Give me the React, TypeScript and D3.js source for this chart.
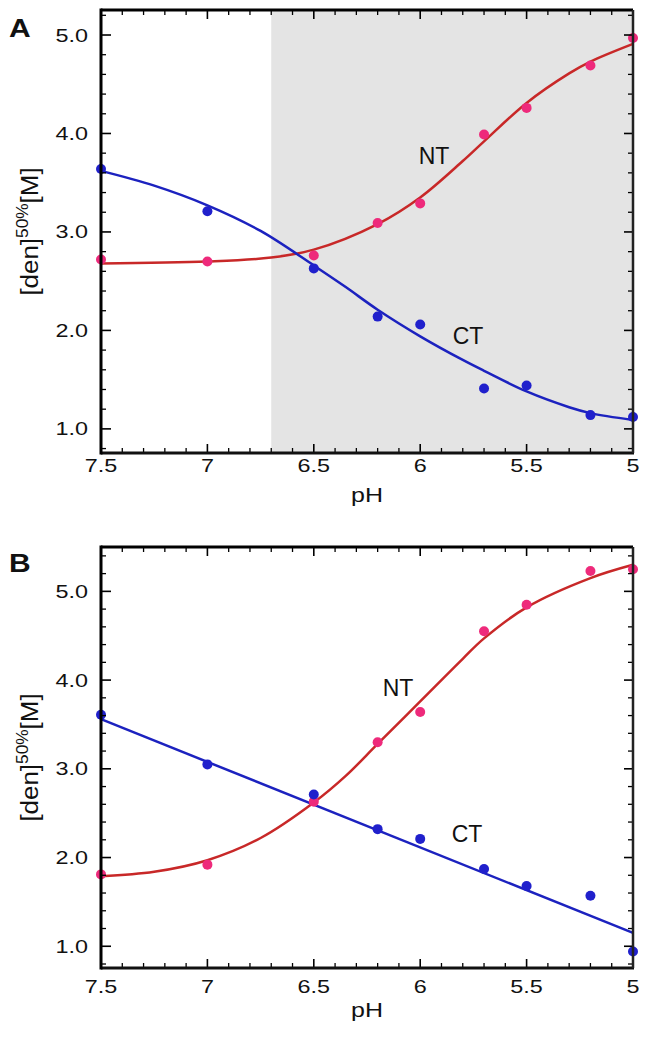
import React from 'react';
import * as d3 from 'd3';

// pH values where the points were measured
const phPoints = [7.5, 7.0, 6.5, 6.2, 6.0, 5.7, 5.5, 5.2, 5.0];

// panel A measurements
const ntA = [2.72, 2.7, 2.76, 3.09, 3.29, 3.99, 4.26, 4.69, 4.97];
const ctA = [3.64, 3.21, 2.63, 2.14, 2.06, 1.41, 1.44, 1.14, 1.12];

// panel B measurements
const ntB = [1.81, 1.92, 2.63, 3.3, 3.64, 4.55, 4.85, 5.23, 5.25];
const ctB = [3.61, 3.05, 2.71, 2.32, 2.21, 1.87, 1.68, 1.57, 0.94];

// fitted curves
const ntFitPhA = [7.5, 7.0, 6.7, 6.5, 6.2, 6.0, 5.8, 5.7, 5.5, 5.3, 5.2, 5.0];
const ntFitA = [2.68, 2.7, 2.74, 2.82, 3.08, 3.35, 3.72, 3.92, 4.31, 4.61, 4.73, 4.91];
const ctFitPhA = [7.5, 7.25, 7.0, 6.75, 6.5, 6.35, 6.2, 6.0, 5.8, 5.7, 5.5, 5.3, 5.2, 5.0];
const ctFitA = [3.62, 3.47, 3.27, 3.01, 2.66, 2.44, 2.21, 1.94, 1.7, 1.59, 1.38, 1.22, 1.16, 1.09];

const ntFitPhB = [7.5, 7.25, 7.0, 6.75, 6.5, 6.35, 6.2, 6.0, 5.8, 5.7, 5.5, 5.2, 5.0];
const ntFitB = [1.79, 1.84, 1.97, 2.22, 2.62, 2.92, 3.28, 3.76, 4.24, 4.47, 4.82, 5.15, 5.3];
const ctFitPhB = [7.5, 5.0];
const ctFitB = [3.56, 1.15];

const xMajor = [7.5, 7, 6.5, 6, 5.5, 5];
const yMajor = [1.0, 2.0, 3.0, 4.0, 5.0];

const pink = '#ee2a7b';
const red = '#c82828';
const blue = '#2020cc';
const blueLine = '#1c22bf';
const font = 'Liberation Sans, Arial, Helvetica, sans-serif';

const left = 101;
const right = 633;

// text that is a bit wider than the font, like in the original figure
function Wide(props: { x: number; y: number; sx: number; size: number; anchor?: string; bold?: boolean; children: React.ReactNode }) {
  return (
    <text
      transform={`translate(${props.x},${props.y}) scale(${props.sx},1)`}
      textAnchor={props.anchor || 'start'}
      fontSize={props.size}
      fontWeight={props.bold ? 'bold' : 'normal'}
      fontFamily={font}
      fill="#111"
    >
      {props.children}
    </text>
  );
}

type PanelProps = {
  letter: string;
  top: number;
  bottom: number;
  yDomain: [number, number];
  nt: number[];
  ct: number[];
  ntFitX: number[];
  ntFit: number[];
  ctFitX: number[];
  ctFit: number[];
  shadeFrom?: number;
  ntLabel: [number, number];
  ctLabel: [number, number];
  tickLabelGap: number;
  letterGap: number;
};

function Panel(p: PanelProps) {
  const x = d3.scaleLinear().domain([7.5, 5]).range([left, right]);
  const y = d3.scaleLinear().domain(p.yDomain).range([p.bottom, p.top]);

  const line = d3
    .line<[number, number]>()
    .x(d => x(d[0]))
    .y(d => y(d[1]))
    .curve(d3.curveCatmullRom.alpha(0.5));

  const xMinor = d3.range(50, 76).map(v => v / 10).filter(v => !xMajor.some(m => Math.abs(m - v) < 1e-6));
  const yMinor = d3
    .range(Math.ceil(p.yDomain[0] * 5), Math.floor(p.yDomain[1] * 5) + 1)
    .map(v => v / 5)
    .filter(v => Math.abs(v - Math.round(v)) > 1e-6);

  const midY = (p.top + p.bottom) / 2;

  return (
    <g>
      {p.shadeFrom !== undefined && (
        <rect x={x(p.shadeFrom)} y={p.top} width={right - x(p.shadeFrom)} height={p.bottom - p.top} fill="#e4e4e4" />
      )}

      {/* fit curves */}
      <path d={line(p.ntFitX.map((v, i) => [v, p.ntFit[i]] as [number, number])) || ''} fill="none" stroke={red} strokeWidth={2.5} />
      <path d={line(p.ctFitX.map((v, i) => [v, p.ctFit[i]] as [number, number])) || ''} fill="none" stroke={blueLine} strokeWidth={2.5} />

      {/* points */}
      {phPoints.map((ph, i) => (
        <circle key={'n' + i} cx={x(ph)} cy={y(p.nt[i])} r={5} fill={pink} />
      ))}
      {phPoints.map((ph, i) => (
        <circle key={'c' + i} cx={x(ph)} cy={y(p.ct[i])} r={5} fill={blue} />
      ))}

      {/* ticks, all pointing inward */}
      {xMajor.map(v => (
        <g key={'xm' + v} stroke="#000" strokeWidth={1.6}>
          <line x1={x(v)} x2={x(v)} y1={p.bottom} y2={p.bottom - 9} />
          <line x1={x(v)} x2={x(v)} y1={p.top} y2={p.top + 9} />
        </g>
      ))}
      {xMinor.map(v => (
        <g key={'xn' + v} stroke="#000" strokeWidth={1.3}>
          <line x1={x(v)} x2={x(v)} y1={p.bottom} y2={p.bottom - 5} />
          <line x1={x(v)} x2={x(v)} y1={p.top} y2={p.top + 5} />
        </g>
      ))}
      {yMajor.map(v => (
        <g key={'ym' + v} stroke="#000" strokeWidth={1.6}>
          <line x1={left} x2={left + 10} y1={y(v)} y2={y(v)} />
          <line x1={right} x2={right - 9} y1={y(v)} y2={y(v)} />
        </g>
      ))}
      {yMinor.map(v => (
        <g key={'yn' + v} stroke="#000" strokeWidth={1.3}>
          <line x1={left} x2={left + 5} y1={y(v)} y2={y(v)} />
          <line x1={right} x2={right - 5} y1={y(v)} y2={y(v)} />
        </g>
      ))}

      {/* frame */}
      <line x1={left} x2={right} y1={p.top} y2={p.top} stroke="#000" strokeWidth={3} />
      <line x1={left} x2={right + 1} y1={p.bottom} y2={p.bottom} stroke="#111" strokeWidth={3} />
      <line x1={left} x2={left} y1={p.top - 1.5} y2={p.bottom + 1.5} stroke="#000" strokeWidth={3} />
      <line x1={right} x2={right} y1={p.top} y2={p.bottom} stroke="#222" strokeWidth={2.5} />

      {/* tick labels */}
      {xMajor.map(v => (
        <Wide key={'xl' + v} x={x(v)} y={p.bottom + p.tickLabelGap} sx={1.3} size={18} anchor="middle">
          {String(v)}
        </Wide>
      ))}
      {yMajor.map(v => (
        <Wide key={'yl' + v} x={88} y={y(v) + 6.5} sx={1.3} size={18} anchor="end">
          {v.toFixed(1)}
        </Wide>
      ))}

      <Wide x={(left + right) / 2} y={p.bottom + 49} sx={1.25} size={20} anchor="middle">
        pH
      </Wide>
      <text transform={`translate(38,${midY}) rotate(-90) scale(1.08,1)`} textAnchor="middle" fontSize={24} fontFamily={font} fill="#111">
        [den]
        <tspan fontSize={16} dy={-10}>50%</tspan>
        <tspan dy={10}>[M]</tspan>
      </text>

      <Wide x={9} y={p.top + p.letterGap} sx={1.2} size={25} bold>
        {p.letter}
      </Wide>

      <text x={x(p.ntLabel[0])} y={y(p.ntLabel[1]) + 8} textAnchor="middle" fontSize={23} fontFamily={font} fill="#111">
        NT
      </text>
      <text x={x(p.ctLabel[0])} y={y(p.ctLabel[1]) + 8} textAnchor="middle" fontSize={23} fontFamily={font} fill="#111">
        CT
      </text>
    </g>
  );
}

export default function App() {
  return (
    <svg width={653} height={1055} style={{ position: 'absolute', left: 0, top: 0, background: '#fff' }}>
      <Panel
        letter="A"
        top={10}
        bottom={453}
        yDomain={[0.755, 5.254]}
        nt={ntA}
        ct={ctA}
        ntFitX={ntFitPhA}
        ntFit={ntFitA}
        ctFitX={ctFitPhA}
        ctFit={ctFitA}
        shadeFrom={6.7}
        ntLabel={[5.935, 3.77]}
        ctLabel={[5.775, 1.94]}
        tickLabelGap={18.5}
        letterGap={27}
      />
      <Panel
        letter="B"
        top={547}
        bottom={968}
        yDomain={[0.755, 5.5]}
        nt={ntB}
        ct={ctB}
        ntFitX={ntFitPhB}
        ntFit={ntFitB}
        ctFitX={ctFitPhB}
        ctFit={ctFitB}
        ntLabel={[6.104, 3.91]}
        ctLabel={[5.78, 2.266]}
        tickLabelGap={25}
        letterGap={25}
      />
    </svg>
  );
}
